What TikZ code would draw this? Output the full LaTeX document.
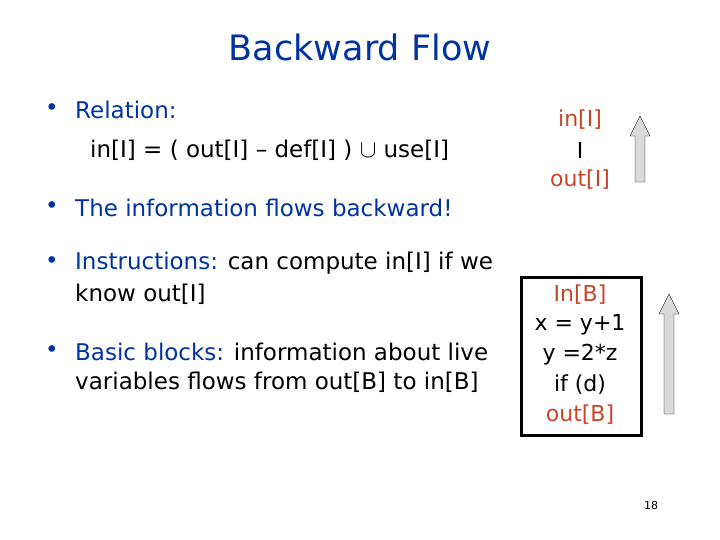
\documentclass[tikz,border=0pt]{standalone}
\usepackage{fontspec}
\setmainfont{DejaVu Sans}
\definecolor{slideblue}{RGB}{0,51,160}
\definecolor{slidered}{RGB}{200,70,40}
\tikzset{
  body/.style={anchor=west, inner sep=0pt, font=\fontsize{23}{26}\selectfont},
  lbl/.style={inner sep=0pt, font=\fontsize{22}{26}\selectfont},
  bigarrow/.style={draw=black, fill=black!15, thin}
}
\newcommand{\uparr}[3]{% x, top y, bottom y
  \draw[bigarrow] (#1-5,#3) -- (#1+5,#3) -- (#1+5,#2+20) -- (#1+10,#2+20) -- (#1,#2)
    -- (#1-10,#2+20) -- (#1-5,#2+20) -- cycle;}
\begin{document}
\begin{tikzpicture}[x=1pt,y=-1pt]
  \useasboundingbox (0,0) rectangle (720,540);
  \node[text=slideblue, font=\fontsize{35}{40}\selectfont] (title) at (360,47) {Backward Flow};

  % left column
  \node[body, text=slideblue] (b1) at (45,110) {\textbullet};
  \node[body, text=slideblue] (rel) at (75,110) {Relation:};
  \node[body] (eq) at (90,150) {in[I] = ( out[I] – def[I] ) $\cup$ use[I]};
  \node[body, text=slideblue] (b2) at (45,208) {\textbullet};
  \node[body, text=slideblue] (flow) at (75,208) {The information flows backward!};
  \node[body, text=slideblue] (b3) at (45,263) {\textbullet};
  \node[body] (ins) at (75,263) {\textcolor{slideblue}{Instructions:} can compute in[I] if we};
  \node[body] (ins2) at (75,294) {know out[I]};
  \node[body, text=slideblue] (b4) at (45,352) {\textbullet};
  \node[body] (bb) at (75,352) {\textcolor{slideblue}{Basic blocks:} information about live};
  \node[body] (bb2) at (75,382) {variables flows from out[B] to in[B]};

  % instruction
  \node[lbl, text=slidered] (inI) at (580,120) {in[I]};
  \node[lbl, font=\fontsize{22}{26}\selectfont\rmfamily] (instr) at (580,150) {I};
  \node[lbl, text=slidered] (outI) at (580,180) {out[I]};
  \uparr{640}{116}{182}

  % basic block
  \draw[line width=3pt] (521,277) rectangle (641,435);
  \node[lbl, text=slidered] (inB) at (580,295) {In[B]};
  \node[lbl] (s1) at (580,325) {x = y+1};
  \node[lbl] (s2) at (580,355) {y =2*z};
  \node[lbl] (s3) at (580,385) {if (d)};
  \node[lbl, text=slidered] (outB) at (580,415) {out[B]};
  \uparr{669}{294}{414}

  \node[font=\fontsize{11}{13}\selectfont] (page) at (651,505) {18};
\end{tikzpicture}
\end{document}
